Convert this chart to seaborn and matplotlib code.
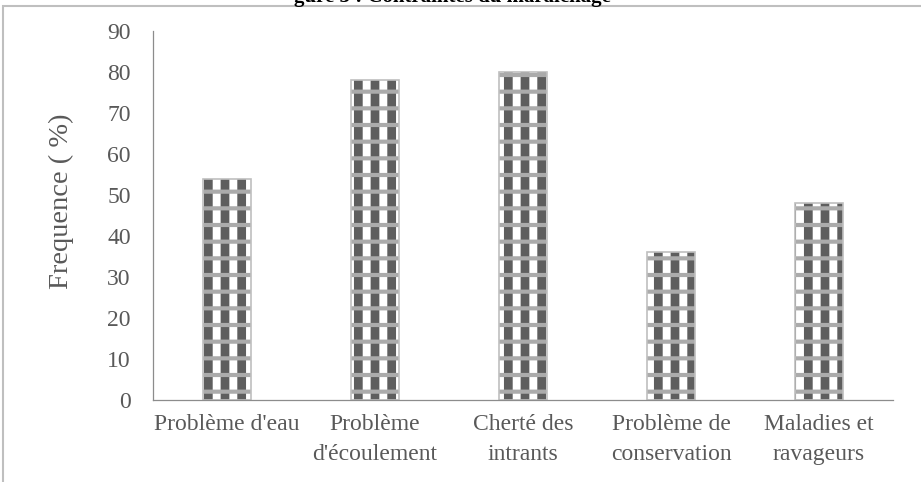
import matplotlib
matplotlib.use("Agg")
import matplotlib.pyplot as plt
import seaborn as sns
from matplotlib.patches import Rectangle

categories = ["Problème d'eau", "Problème\nd'écoulement", "Cherté des\nintrants",
              "Problème de\nconservation", "Maladies et\nravageurs"]
values = [54, 78, 80, 36, 48]
yticks = [0, 10, 20, 30, 40, 50, 60, 70, 80, 90]

sns.set_theme(style="white")
plt.rcParams['font.family'] = ['Liberation Serif', 'DejaVu Serif']
txt = '#595959'

fig = plt.figure(figsize=(9.21, 4.82), dpi=100)
ax = fig.add_axes([153 / 921, 1 - 400 / 482, 740 / 921, 369 / 482])


def layer(face, edge, hatch, lw, hlw):
    n0 = len(ax.patches)
    with plt.rc_context({'hatch.linewidth': hlw}):
        sns.barplot(x=categories, y=values, ax=ax, width=0.325, color='white')
        for p in ax.patches[n0:]:
            p.set_facecolor(face)
            p.set_edgecolor(edge)
            p.set_hatch(hatch)
            p.set_linewidth(lw)
            if hasattr(p, 'set_hatch_linewidth'):
                p.set_hatch_linewidth(hlw)


# checkered fill: dark columns broken by grey bands, then a light outline
layer('white', '#5e5e5e', '|', 0, 6.3)
layer('none', '#ababab', '-', 0, 3.0)
layer('none', '#bfbfbf', None, 1.2, 1.0)

ax.set_ylim(0, 90)
ax.set_yticks(yticks)
ax.set_xlim(-0.5, 4.5)
ax.tick_params(axis='both', length=0, labelsize=17, colors=txt)
ax.tick_params(axis='y', pad=16)
ax.tick_params(axis='x', pad=10)
for lab in ax.get_xticklabels():
    lab.set_linespacing(1.6)
for s in ['top', 'right']:
    ax.spines[s].set_visible(False)
for s in ['left', 'bottom']:
    ax.spines[s].set_color('#8c8c8c')
    ax.spines[s].set_linewidth(0.9)

ax.set_ylabel('Frequence ( %)', fontsize=20.5, color=txt)
ax.yaxis.label.set_va('center')
ax.yaxis.set_label_coords((61 - 153) / 740, (400 - 201) / 369)

# outer chart frame and clipped title, as in the source document
fig.patches.append(Rectangle((3 / 921, -0.1), 1.2, 1.1 - 6 / 482, transform=fig.transFigure,
                             fill=False, edgecolor='#bfbfbf', linewidth=1.5))
fig.text(452 / 921, 1 - 2 / 482, "gure 3 : Contraintes du maraîchage", ha='center',
         va='baseline', fontsize=15, fontweight='bold', color='black')

fig.savefig('out.png', dpi=100)
